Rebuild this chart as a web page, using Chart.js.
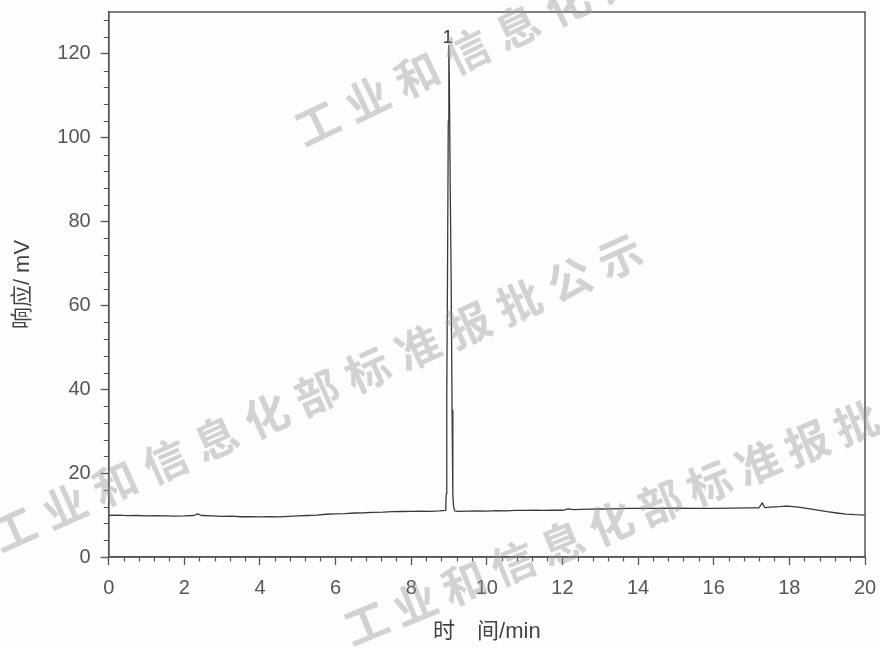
<!DOCTYPE html>
<html>
<head>
<meta charset="utf-8">
<script src="https://cdn.jsdelivr.net/npm/chart.js@4.4.1/dist/chart.umd.min.js"></script>
<style>
    html, body { margin: 0; padding: 0; background: #fdfdfd; }
    #wrap { width: 880px; height: 648px; }
</style>
</head>
<body>
<div id="wrap"><canvas id="grafCromatograma" width="880" height="648"></canvas></div>
<script>
// ===== DATOS =====
const tiempos = [
    0.0, 0.25, 0.5, 0.75, 1.0, 1.25, 1.5, 1.75, 2.0, 2.25, 2.35, 2.45, 2.75,
    3.0, 3.25, 3.5, 3.75, 4.0, 4.25, 4.5, 4.75, 5.0, 5.25, 5.5, 5.75,
    6.0, 6.25, 6.5, 6.75, 7.0, 7.25, 7.5, 7.75, 8.0, 8.25, 8.5, 8.75, 8.9,
    8.915, 8.925, 8.94, 8.96, 8.98, 8.995, 9.01, 9.03, 9.056, 9.08, 9.1, 9.12, 9.15,
    9.25, 9.5, 9.75, 10.0, 10.25, 10.5, 10.75, 11.0, 11.25, 11.5, 11.75,
    12.0, 12.15, 12.3, 12.5, 12.75, 13.0, 13.25, 13.5, 13.75, 14.0, 14.5,
    15.0, 15.5, 16.0, 16.5, 17.0, 17.2, 17.28, 17.35, 17.5, 17.75, 17.9,
    18.0, 18.25, 18.5, 18.75, 19.0, 19.25, 19.5, 19.75, 20.0
]
const senal = [
    9.9, 10.0, 9.85, 9.9, 9.8, 9.85, 9.8, 9.75, 9.8, 9.9, 10.3, 9.9, 9.8,
    9.7, 9.75, 9.6, 9.65, 9.55, 9.6, 9.55, 9.7, 9.8, 9.9, 10.0, 10.2,
    10.3, 10.35, 10.5, 10.55, 10.65, 10.7, 10.8, 10.85, 10.9, 10.95, 10.9, 11.0, 11.1,
    12.5, 15, 38, 68, 104, 122, 112, 90, 66, 35, 15, 12, 11.0,
    10.9, 10.95, 11.0, 10.95, 11.05, 11.0, 11.1, 11.1, 11.15, 11.1, 11.2,
    11.15, 11.5, 11.3, 11.35, 11.4, 11.45, 11.5, 11.55, 11.6, 11.6, 11.6,
    11.65, 11.6, 11.6, 11.65, 11.7, 11.75, 12.9, 11.8, 11.9, 12.0, 12.15,
    12.1, 11.9, 11.55, 11.2, 10.8, 10.5, 10.25, 10.1, 10.0
]
const ticksX = [0, 2, 4, 6, 8, 10, 12, 14, 16, 18, 20]
const ticksY = [0, 20, 40, 60, 80, 100, 120]
const picos = [{ tiempo: 8.995, senal: 122, etiqueta: "1" }]
const marcaAgua = "工业和信息化部标准报批公示"

const GRIS = "#555"
const fuente = '"Liberation Sans", Arial, "Noto Sans CJK SC", sans-serif'

// marcas menores + marco + etiqueta de pico + marca de agua
const pluginExtras = {
    id: "extras",
    afterDraw(chart) {
        const ctx = chart.ctx
        const a = chart.chartArea
        const sx = chart.scales.x
        const sy = chart.scales.y
        ctx.save()
        ctx.strokeStyle = GRIS
        ctx.lineWidth = 1.5
        ctx.strokeRect(a.left, a.top, a.right - a.left, a.bottom - a.top)

        ctx.lineWidth = 1.2
        ctx.beginPath()
        for (let i = 1; i < 50; i++) {
            if (i % 5 === 0) continue
            const px = Math.round(sx.getPixelForValue(i * 0.4)) + 0.5
            ctx.moveTo(px, a.bottom)
            ctx.lineTo(px, a.bottom + 4.5)
        }
        for (let i = 1; i <= 32; i++) {
            if (i % 5 === 0) continue
            const py = Math.round(sy.getPixelForValue(i * 4)) + 0.5
            ctx.moveTo(a.left, py)
            ctx.lineTo(a.left - 5, py)
        }
        ctx.stroke()

        ctx.fillStyle = "#333"
        ctx.font = "18px " + fuente
        ctx.textAlign = "center"
        ctx.textBaseline = "bottom"
        picos.forEach(p => {
            ctx.fillText(p.etiqueta, sx.getPixelForValue(p.tiempo) - 1, sy.getPixelForValue(p.senal) + 1)
        })

        // marca de agua
        ctx.fillStyle = "rgba(150,150,150,0.42)"
        ctx.font = 'bold 44px "Noto Sans CJK SC", sans-serif'
        ctx.textBaseline = "middle"
        const lineas = [
            { x: 317, y: 123, dx: 50, dy: -24 },
            { x: 14, y: 529, dx: 50.5, dy: -22.7 },
            { x: 366, y: 623, dx: 49, dy: -20 }
        ]
        lineas.forEach(l => {
            const ang = Math.atan2(l.dy, l.dx)
            Array.from(marcaAgua).forEach((c, i) => {
                ctx.save()
                ctx.translate(l.x + i * l.dx, l.y + i * l.dy)
                ctx.rotate(ang)
                ctx.fillText(c, 0, 0)
                ctx.restore()
            })
        })
        ctx.restore()
    }
}

const ctxC = document.getElementById("grafCromatograma").getContext("2d")
new Chart(ctxC, {
    type: "line",
    data: {
        datasets: [{
            data: tiempos.map((t, i) => ({ x: t, y: senal[i] })),
            borderColor: "#3a3a3a",
            borderWidth: 1.3,
            borderJoinStyle: "round",
            borderCapStyle: "round",
            pointRadius: 0,
            tension: 0,
            fill: false
        }]
    },
    options: {
        responsive: false,
        animation: false,
        layout: { padding: { top: 12, right: 15, left: 0, bottom: 0 } },
        plugins: { legend: { display: false }, tooltip: { enabled: false } },
        scales: {
            x: {
                type: "linear",
                min: 0,
                max: 20,
                afterBuildTicks: s => { s.ticks = ticksX.map(v => ({ value: v })) },
                afterFit: s => { s.height = 91; s.paddingLeft = 0; s.paddingRight = 0 },
                grid: { drawOnChartArea: false, drawTicks: true, tickLength: 8, tickColor: GRIS, tickWidth: 1.3 },
                border: { display: true, color: GRIS, width: 1.5 },
                ticks: { color: GRIS, padding: 11, maxRotation: 0, font: { family: fuente, size: 20 } },
                title: { display: true, text: "时　间/min", color: "#444", padding: { top: 0, bottom: 3 }, font: { family: fuente, size: 22 } }
            },
            y: {
                min: 0,
                max: 130,
                afterBuildTicks: s => { s.ticks = ticksY.map(v => ({ value: v })) },
                afterFit: s => { s.width = 108.7; s.paddingTop = 0; s.paddingBottom = 0 },
                grid: { drawOnChartArea: false, drawTicks: true, tickLength: 8, tickColor: GRIS, tickWidth: 1.3 },
                border: { display: true, color: GRIS, width: 1.5 },
                ticks: { color: GRIS, padding: 10, font: { family: fuente, size: 20 } },
                title: { display: true, text: "响应/ mV", color: "#444", padding: { top: 10, bottom: 0 }, font: { family: fuente, size: 22 } }
            }
        }
    },
    plugins: [pluginExtras]
})
</script>
</body>
</html>
